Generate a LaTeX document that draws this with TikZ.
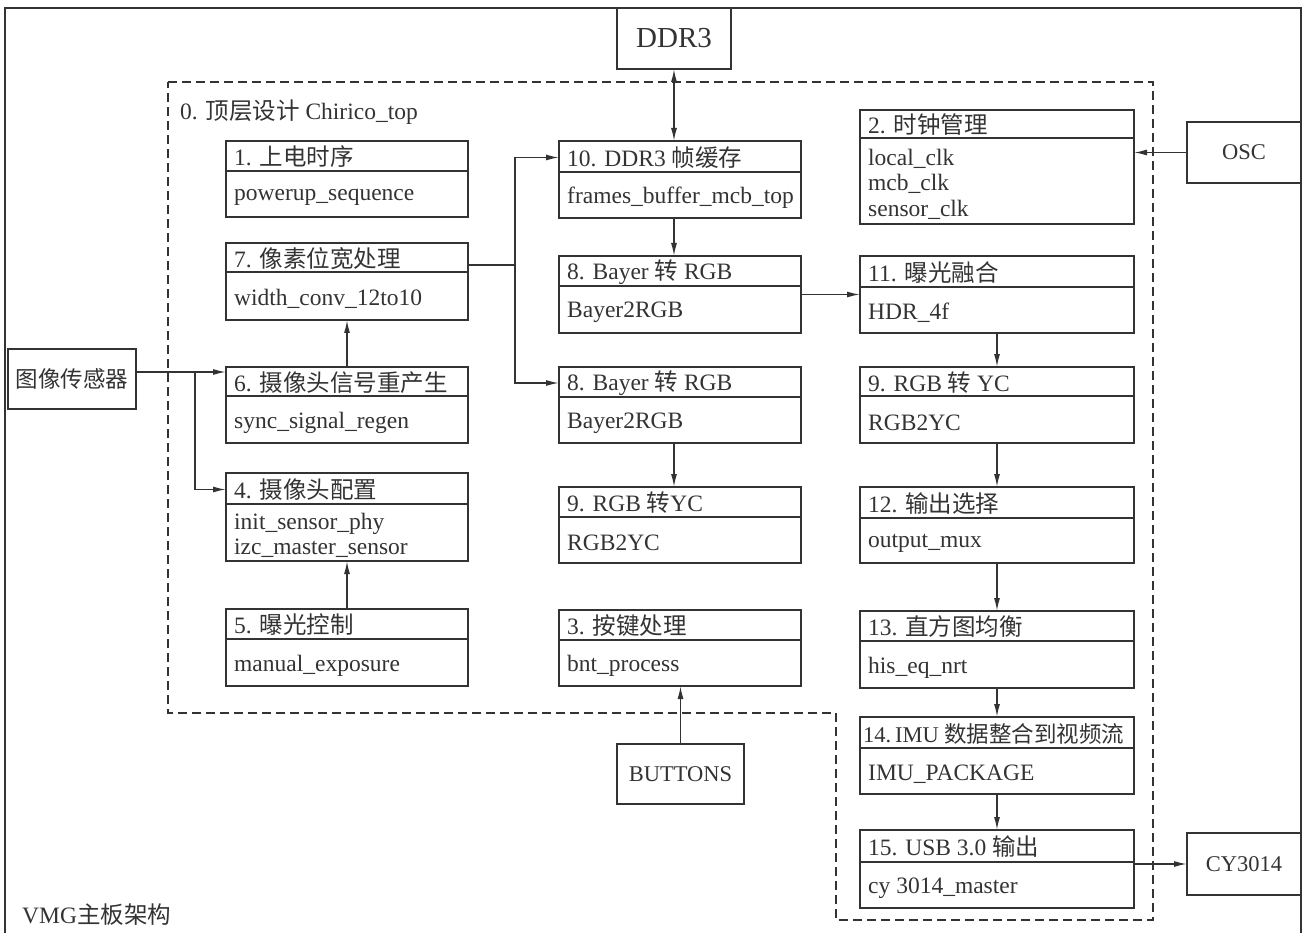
\documentclass[tikz,border=0pt]{standalone}
\usepackage{fontspec}
\setmainfont{Liberation Serif}
\newfontfamily\cjk{Noto Sans CJK SC}
\usetikzlibrary{arrows.meta,calc}
\definecolor{ink}{HTML}{333333}
\newcommand\zhtxt[1]{{\cjk #1}}
\tikzset{
  box/.style={draw=ink, line width=1.8pt, rectangle, inner sep=0pt, outer sep=0pt},
  divline/.style={draw=ink, line width=1.8pt},
  txt/.style={text=ink, font=\fontsize{23.5}{25.5}\selectfont, inner sep=0pt, anchor=west},
  ext/.style={box, anchor=north west, text=ink, font=\fontsize{22.5}{25}\selectfont},
  arr/.style={draw=ink, line width=1.5pt, -{Latex[length=13pt,width=6pt]}},
  arrboth/.style={draw=ink, line width=1.5pt, {Latex[length=13pt,width=6pt]}-{Latex[length=13pt,width=6pt]}},
  plain/.style={draw=ink, line width=1.5pt},
  regionline/.style={draw=ink, line width=1.6pt, dash pattern=on 9pt off 5pt},
  framel/.style={draw=ink, line width=1.8pt},
}
% name, x1, y1, x2, y2, ydiv, header, body
\newcommand\modbox[8]{%
  \node[box, anchor=north west, minimum width={#4-#2}, minimum height={#5-#3}] (#1) at (#2,#3) {};
  \draw[divline] (#2,#6) -- (#4,#6);
  \node[txt] (#1h) at ({#2+8},{(#3+#6)/2+1}) {#7};
  \node[txt, align=left] (#1b) at ({#2+8},{(#6+#5)/2+3}) {#8};
}
\begin{document}
\begin{tikzpicture}[x=1pt,y=-1pt]
\useasboundingbox (0,0) rectangle (1304,933);
% outer frame
\coordinate (f1) at (5,940);
\coordinate (f2) at (5,8);
\coordinate (f3) at (1301,8);
\coordinate (f4) at (1301,940);
\draw[framel] (f1) -- (f2) -- (f3) -- (f4);
% dashed region
\coordinate (r1) at (168,82);
\coordinate (r2) at (1153,82);
\coordinate (r3) at (1153,920);
\coordinate (r4) at (836,920);
\coordinate (r5) at (836,713);
\coordinate (r6) at (168,713);
\draw[regionline] (r1) -- (r2) -- (r3) -- (r4) -- (r5) -- (r6) -- cycle;
\node[txt] (title) at (180,112) {0. \zhtxt{顶层设计} Chirico\_top};
\node[txt] (vmg) at (22,915) {VMG\zhtxt{主板架构}};
% external boxes
\node[ext, minimum width=114, minimum height=61, font=\fontsize{29}{32}\selectfont] (ddr) at (617,8) {DDR3};
\node[ext, minimum width=128, minimum height=60] (sensor) at (8,349) {\zhtxt{图像传感器}};
\node[ext, minimum width=114, minimum height=61] (osc) at (1187,122) {OSC};
\node[ext, minimum width=127, minimum height=60] (btn) at (617,744) {BUTTONS};
\node[ext, minimum width=114, minimum height=62] (cy) at (1187,833) {CY3014};
% left column
\modbox{b1}{226}{141}{468}{217}{171}{1. \zhtxt{上电时序}}{powerup\_sequence}
\modbox{b7}{226}{243}{468}{320}{272}{7. \zhtxt{像素位宽处理}}{width\_conv\_12to10}
\modbox{b6}{226}{367}{468}{443}{396}{6. \zhtxt{摄像头信号重产生}}{sync\_signal\_regen}
\modbox{b4}{226}{473}{468}{561}{504}{4. \zhtxt{摄像头配置}}{init\_sensor\_phy\\izc\_master\_sensor}
\modbox{b5}{226}{609}{468}{686}{639}{5. \zhtxt{曝光控制}}{manual\_exposure}
% middle column
\modbox{b10}{559}{141}{801}{218}{172}{10. DDR3 \zhtxt{帧缓存}}{frames\_buffer\_mcb\_top}
\modbox{b8a}{559}{256}{801}{333}{286}{8. Bayer \zhtxt{转} RGB}{Bayer2RGB}
\modbox{b8b}{559}{367}{801}{443}{397}{8. Bayer \zhtxt{转} RGB}{Bayer2RGB}
\modbox{b9a}{559}{487}{801}{563}{517}{9. RGB \zhtxt{转}YC}{RGB2YC}
\modbox{b3}{559}{610}{801}{686}{640}{3. \zhtxt{按键处理}}{bnt\_process}
% right column
\modbox{b2}{860}{110}{1134}{224}{138}{2. \zhtxt{时钟管理}}{local\_clk\\mcb\_clk\\sensor\_clk}
\modbox{b11}{860}{256}{1134}{333}{287}{11. \zhtxt{曝光融合}}{HDR\_4f}
\modbox{b9b}{860}{367}{1134}{443}{396}{9. RGB \zhtxt{转} YC}{RGB2YC}
\modbox{b12}{860}{487}{1134}{563}{518}{12. \zhtxt{输出选择}}{output\_mux}
\modbox{b13}{860}{611}{1134}{688}{641}{13. \zhtxt{直方图均衡}}{his\_eq\_nrt}
\modbox{b14}{860}{717}{1134}{794}{748}{\hspace{-5pt}\fontsize{22.5}{25}\selectfont 14.\,IMU \zhtxt{数据整合到视频流}}{IMU\_PACKAGE}
\modbox{b15}{860}{830}{1134}{908}{862}{15. USB 3.0 \zhtxt{输出}}{cy 3014\_master}
% connectors
\draw[arrboth] (ddr.south) -- (ddr.south |- b10.north);
\draw[arr] (osc.west) -- (osc.west -| b2.east);
\coordinate (s1) at ([yshift=7pt]sensor.east);
\coordinate (j1) at (195,372);
\draw[arr] (s1) -- (s1 -| b6.west);
\draw[arr] (j1) |- (b4.west |- b4h);
\draw[arr] (b6.north) -- (b7.south);
\draw[arr] (b5.north) -- (b4.south);
\coordinate (j2) at (515,265);
\draw[plain] (b7.east |- j2) -- (j2);
\draw[arr] (j2) |- (b10.west |- b10h);
\draw[arr] (j2) |- (b8b.west |- b8bh);
\draw[arr] (ddr.south |- b10.south) -- (ddr.south |- b8a.north);
\draw[arr] (b8a.east |- b11.west) -- (b11.west);
\draw[arr] (ddr.south |- b8b.south) -- (ddr.south |- b9a.north);
\draw[arr] (btn.north) -- (btn.north |- b3.south);
\draw[arr] (b11.south) -- (b9b.north);
\draw[arr] (b9b.south) -- (b12.north);
\draw[arr] (b12.south) -- (b13.north);
\draw[arr] (b13.south) -- (b14.north);
\draw[arr] (b14.south) -- (b15.north);
\draw[arr] (b15.east |- cy.west) -- (cy.west);
\end{tikzpicture}
\end{document}
